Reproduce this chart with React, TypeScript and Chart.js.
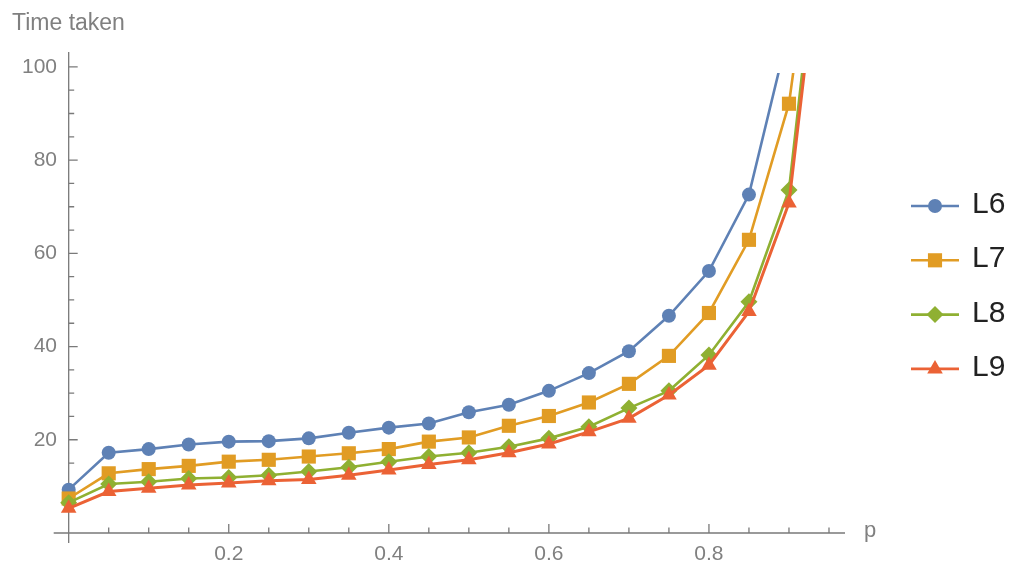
import React, { useEffect, useRef } from "react";
import { Chart, registerables } from "chart.js";

Chart.register(...registerables);

const pValues = [0, 0.05, 0.1, 0.15, 0.2, 0.25, 0.3, 0.35, 0.4, 0.45, 0.5, 0.55, 0.6, 0.65, 0.7, 0.75, 0.8, 0.85, 0.9, 0.95];

const L6 = [9.3, 17.2, 18.0, 19.0, 19.6, 19.7, 20.3, 21.5, 22.6, 23.5, 25.9, 27.5, 30.5, 34.3, 39.0, 46.6, 56.2, 72.6, 108];
const L7 = [7.4, 12.8, 13.7, 14.4, 15.3, 15.7, 16.4, 17.1, 18.0, 19.6, 20.5, 23.0, 25.1, 28.0, 32.0, 38.0, 47.2, 62.9, 92.1, 155];
const L8 = [6.5, 10.5, 11.0, 11.7, 11.9, 12.4, 13.2, 14.1, 15.3, 16.4, 17.2, 18.5, 20.3, 22.8, 26.8, 30.5, 38.2, 49.6, 73.6, 150];
const L9 = [5.3, 8.9, 9.6, 10.3, 10.7, 11.2, 11.5, 12.4, 13.5, 14.7, 15.7, 17.2, 19.1, 21.7, 24.6, 29.6, 36.0, 47.5, 70.8, 144];

const seriesNames = ["L6", "L7", "L8", "L9"];
const seriesValues = [L6, L7, L8, L9];
const seriesColors = ["#5E81B5", "#E19C24", "#8FB032", "#EB6235"];
const seriesMarkers = ["circle", "rect", "rectRot", "triangle"];
const markerRadii = [7, 10, 8.5, 9];

const xTickValues = [0.2, 0.4, 0.6, 0.8];
const xTickLabels = ["0.2", "0.4", "0.6", "0.8"];
const yTickValues = [20, 40, 60, 80, 100];
const yTickLabels = ["20", "40", "60", "80", "100"];
const xMinorStep = 0.05;
const yMinorStep = 5;

const yAxisTitle = "Time taken";
const xAxisTitle = "p";

const FONT = '"Liberation Sans", Arial, sans-serif';
const AXIS_COLOR = "#7a7a7a";
const LABEL_COLOR = "#808080";

function drawMarker(ctx: CanvasRenderingContext2D, style: string, x: number, y: number, r: number) {
  ctx.beginPath();
  if (style === "circle") {
    ctx.arc(x, y, r, 0, Math.PI * 2);
  } else if (style === "rect") {
    const s = r * Math.SQRT1_2;
    ctx.rect(x - s, y - s, 2 * s, 2 * s);
  } else if (style === "rectRot") {
    ctx.moveTo(x, y - r);
    ctx.lineTo(x + r, y);
    ctx.lineTo(x, y + r);
    ctx.lineTo(x - r, y);
    ctx.closePath();
  } else {
    const w = (r * Math.sqrt(3)) / 2;
    ctx.moveTo(x, y - r);
    ctx.lineTo(x + w, y + r / 2);
    ctx.lineTo(x - w, y + r / 2);
    ctx.closePath();
  }
  ctx.fill();
}

const axesPlugin = {
  id: "mmaAxes",
  beforeDatasetsDraw(chart: any) {
    const { ctx, chartArea, scales } = chart;
    const xs = scales.x;
    const ys = scales.y;
    const x0 = xs.getPixelForValue(0);
    const y0 = ys.getPixelForValue(0);
    ctx.save();
    ctx.strokeStyle = AXIS_COLOR;
    ctx.lineWidth = 1.3;
    ctx.beginPath();
    ctx.moveTo(x0 - 15, y0);
    ctx.lineTo(chartArea.right, y0);
    ctx.moveTo(x0, chartArea.top);
    ctx.lineTo(x0, chartArea.bottom);
    ctx.stroke();
    ctx.beginPath();
    for (let i = 1; i * xMinorStep <= xs.max + 1e-9; i++) {
      const v = i * xMinorStep;
      const major = xTickValues.some((t) => Math.abs(t - v) < 1e-6);
      const px = xs.getPixelForValue(v);
      ctx.moveTo(px, y0);
      ctx.lineTo(px, y0 - (major ? 9 : 5.5));
    }
    for (let i = 1; i * yMinorStep <= ys.max + 1e-9; i++) {
      const v = i * yMinorStep;
      const major = yTickValues.some((t) => Math.abs(t - v) < 1e-6);
      const py = ys.getPixelForValue(v);
      ctx.moveTo(x0, py);
      ctx.lineTo(x0 + (major ? 9 : 5.5), py);
    }
    ctx.stroke();
    ctx.restore();
  },
  afterDraw(chart: any) {
    const { ctx, chartArea, scales } = chart;
    const ys = scales.y;
    ctx.save();
    ctx.fillStyle = LABEL_COLOR;
    ctx.font = `23px ${FONT}`;
    ctx.textBaseline = "alphabetic";
    ctx.textAlign = "left";
    ctx.fillText(yAxisTitle, 12, 30);
    ctx.font = `22px ${FONT}`;
    ctx.fillText(xAxisTitle, chartArea.right + 19, ys.getPixelForValue(0) + 4);

    const lx = chartArea.right + 66;
    const lineLen = 48;
    const startY = 206;
    const gap = 54.3;
    ctx.font = `30px ${FONT}`;
    seriesNames.forEach((name, i) => {
      const cy = startY + i * gap;
      ctx.strokeStyle = seriesColors[i];
      ctx.fillStyle = seriesColors[i];
      ctx.lineWidth = 2.6;
      ctx.beginPath();
      ctx.moveTo(lx, cy);
      ctx.lineTo(lx + lineLen, cy);
      ctx.stroke();
      drawMarker(ctx, seriesMarkers[i], lx + lineLen / 2, cy, markerRadii[i]);
      ctx.fillStyle = "#222222";
      ctx.fillText(name, lx + lineLen + 13, cy + 7);
    });
    ctx.restore();
  },
};

export default function App() {
  const canvasRef = useRef<HTMLCanvasElement | null>(null);

  useEffect(() => {
    if (!canvasRef.current) return;
    const datasets = seriesNames.map((name, i) => ({
      label: name,
      data: seriesValues[i].map((v, j) => ({ x: pValues[j], y: v })),
      borderColor: seriesColors[i],
      backgroundColor: seriesColors[i],
      borderWidth: i === 3 ? 3 : 2.6,
      pointStyle: seriesMarkers[i] as any,
      pointRadius: markerRadii[i],
      pointBorderWidth: 0,
      pointHoverRadius: markerRadii[i],
      tension: 0,
      fill: false,
      order: 3 - i,
      clip: { left: 14, right: 14, bottom: 14, top: -21 } as any,
    }));

    const chart = new Chart(canvasRef.current, {
      type: "line",
      data: { datasets },
      plugins: [axesPlugin],
      options: {
        animation: false,
        responsive: false,
        events: [],
        layout: { padding: { left: 0, top: 52, right: 172, bottom: 0 } },
        plugins: { legend: { display: false }, tooltip: { enabled: false }, title: { display: false } },
        scales: {
          x: {
            type: "linear",
            min: -0.0146,
            max: 0.97,
            grid: { display: false, drawTicks: false },
            border: { display: false },
            afterFit: (s: any) => { s.height = 35; },
            afterBuildTicks: (s: any) => { s.ticks = xTickValues.map((v) => ({ value: v })); },
            ticks: {
              padding: -1,
              color: LABEL_COLOR,
              font: { family: FONT, size: 21 },
              maxRotation: 0,
              autoSkip: false,
              callback: (v: any) => xTickLabels[xTickValues.findIndex((t) => Math.abs(t - Number(v)) < 1e-6)] ?? "",
            },
          },
          y: {
            type: "linear",
            min: -2.15,
            max: 103.2,
            grid: { display: false, drawTicks: false },
            border: { display: false },
            afterFit: (s: any) => { s.width = 57; },
            afterBuildTicks: (s: any) => { s.ticks = yTickValues.map((v) => ({ value: v })); },
            ticks: {
              padding: 0,
              color: LABEL_COLOR,
              font: { family: FONT, size: 21 },
              autoSkip: false,
              callback: (v: any) => yTickLabels[yTickValues.findIndex((t) => Math.abs(t - Number(v)) < 1e-6)] ?? "",
            },
          },
        },
      },
    });
    return () => chart.destroy();
  }, []);

  return (
    <div style={{ position: "absolute", left: 0, top: 0, width: 1017, height: 578, background: "#ffffff" }}>
      <canvas ref={canvasRef} width={1017} height={578} />
    </div>
  );
}
